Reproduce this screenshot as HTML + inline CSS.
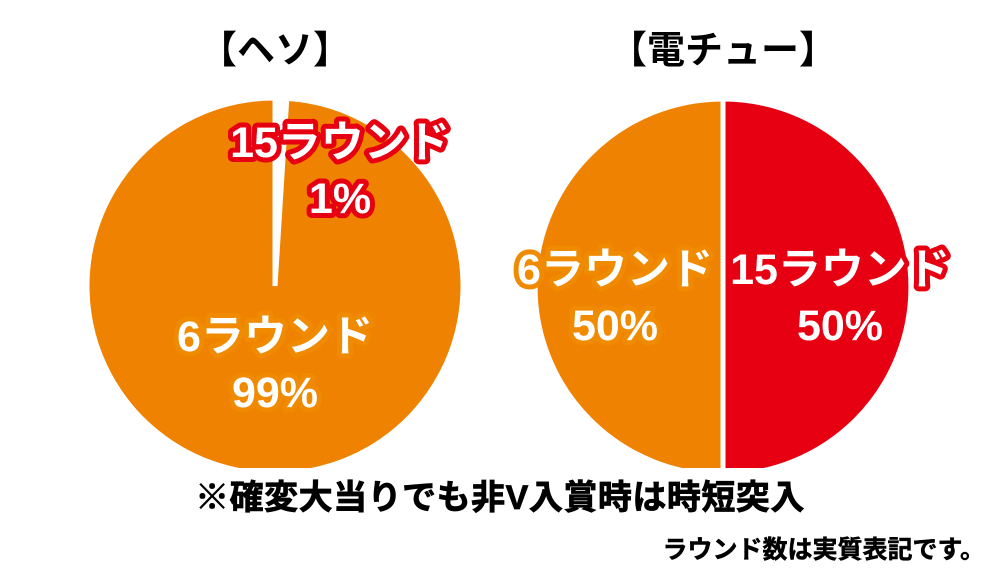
<!DOCTYPE html>
<html><head><meta charset="utf-8"><style>
body{margin:0;background:#fff;}
svg{display:block;font-family:"Liberation Sans","Noto Sans CJK JP",sans-serif;font-weight:bold;}
.lbl{paint-order:stroke;stroke-linejoin:round;}
</style></head><body>
<svg width="1000" height="577" viewBox="0 0 1000 577">
<defs><clipPath id="clip"><rect x="0" y="0" width="1000" height="468"/></clipPath></defs>
<g id="pies" clip-path="url(#clip)"></g>
<text x="275" y="63" text-anchor="middle" font-size="38" fill="#000">【ヘソ】</text>
<text x="723" y="63" text-anchor="middle" font-size="38" fill="#000">【電チュー】</text>
<g id="labels"></g>
<text x="500" y="509" text-anchor="middle" font-size="34" fill="#000" stroke="#000" stroke-width="0.8" letter-spacing="0.5">※確変大当りでも非V入賞時は時短突入</text>
<text x="985" y="558" text-anchor="end" font-size="25" fill="#000" stroke="#000" stroke-width="0.5">ラウンド数は実質表記です。</text>
</svg>
<script>
const chartNames = ["heso", "denchu"];
const hesoValues = [1, 99];
const denchuValues = [50, 50];
const sliceNames = ["15ラウンド", "6ラウンド"];
const sliceColors = [["#FFFFFF", "#EF8200"], ["#E60012", "#EF8200"]];
const ns = "http://www.w3.org/2000/svg";
const pies = document.getElementById("pies");
const labels = document.getElementById("labels");
const centers = [[275, 286], [723, 287]];
const R = 188;
function pt(cx, cy, a) { return [cx + R * Math.sin(a), cy - R * Math.cos(a)]; }
[hesoValues, denchuValues].forEach((vals, ci) => {
  const [cx, cy] = centers[ci];
  const total = vals.reduce((a, b) => a + b, 0);
  let a0 = 0;
  vals.forEach((v, i) => {
    const a1 = a0 + v / total * Math.PI * 2;
    const p0 = pt(cx, cy, a0), p1 = pt(cx, cy, a1);
    const large = (a1 - a0) > Math.PI ? 1 : 0;
    const path = document.createElementNS(ns, "path");
    path.setAttribute("d", `M${cx},${cy}L${p0[0]},${p0[1]}A${R},${R} 0 ${large} 1 ${p1[0]},${p1[1]}Z`);
    path.setAttribute("fill", sliceColors[ci][i]);
    path.setAttribute("stroke", "#fff");
    path.setAttribute("stroke-width", "5");
    
    
    pies.appendChild(path);
    a0 = a1;
  });
});
const labelPos = [
  [[340, 157], [275, 351]],
  [[840, 284], [615, 284]]
];
[hesoValues, denchuValues].forEach((vals, ci) => {
  vals.forEach((v, i) => {
    const [x, y] = labelPos[ci][i];
    [sliceNames[i], v + "%"].forEach((txt, k) => {
      const t = document.createElementNS(ns, "text");
      t.setAttribute("x", x);
      t.setAttribute("y", y + k * 56);
      t.setAttribute("text-anchor", "middle");
      t.setAttribute("font-size", "43");
      t.setAttribute("fill", "#fff");
      t.setAttribute("stroke", i === 0 ? "#E60012" : "#F08A00");
      t.setAttribute("stroke-width", "10");
      t.setAttribute("class", "lbl");
      t.textContent = txt;
      
      
      labels.appendChild(t);
    });
  });
});
</script>
</body></html>
